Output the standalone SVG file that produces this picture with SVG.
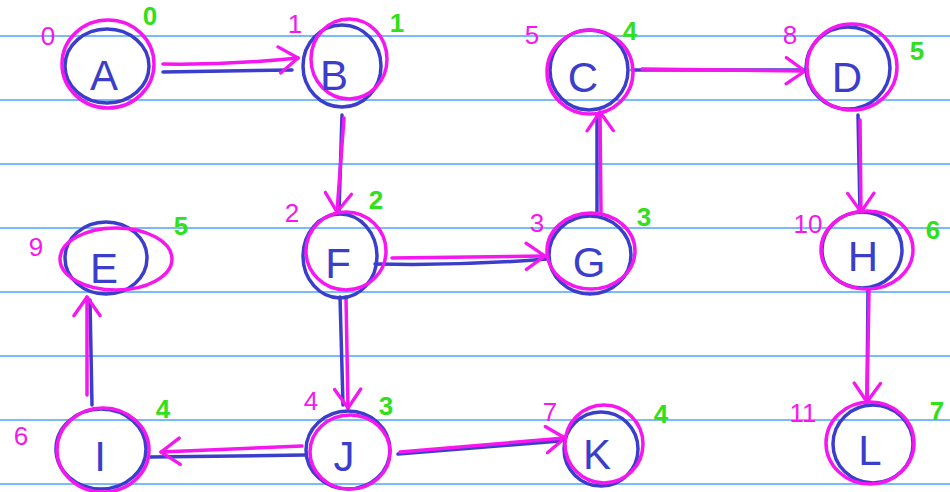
<svg xmlns="http://www.w3.org/2000/svg" width="950" height="492" viewBox="0 0 950 492">
<defs>
<style>
.rule{stroke:#4aa6f5;stroke-width:1.5}
.bc{fill:none;stroke:#3b3ecb;stroke-width:3.5}
.mc{fill:none;stroke:#f516f0;stroke-width:3.5}
.be{fill:none;stroke:#3b3ecb;stroke-width:3.5;stroke-linecap:round}
.me{fill:none;stroke:#f516f0;stroke-width:3.5;stroke-linecap:round;marker-end:url(#ah)}
.let{font-family:"Liberation Sans",Arial,sans-serif;font-size:42px;fill:#3b3ecb;text-anchor:middle}
.ml{font-family:"Liberation Sans",Arial,sans-serif;font-size:26px;fill:#f516f0;text-anchor:middle}
.gl{font-family:"Liberation Sans",Arial,sans-serif;font-size:26px;fill:#2fe01a;text-anchor:middle;font-weight:bold}
</style>
<marker id="ah" markerUnits="userSpaceOnUse" markerWidth="30" markerHeight="30" viewBox="-24 -16 28 32" refX="0" refY="0" orient="auto">
<path d="M-20,-14 L0,0 L-20,14" fill="none" stroke="#f516f0" stroke-width="3.5" stroke-linecap="round" stroke-linejoin="round"/>
</marker>
</defs>
<rect width="950" height="492" fill="#ffffff"/>
<g id="rules">
<line class="rule" x1="0" y1="36" x2="950" y2="36"/>
<line class="rule" x1="0" y1="100" x2="950" y2="100"/>
<line class="rule" x1="0" y1="164" x2="950" y2="164"/>
<line class="rule" x1="0" y1="228" x2="950" y2="228"/>
<line class="rule" x1="0" y1="292" x2="950" y2="292"/>
<line class="rule" x1="0" y1="356" x2="950" y2="356"/>
<line class="rule" x1="0" y1="420" x2="950" y2="420"/>
<line class="rule" x1="0" y1="484" x2="950" y2="484"/>
</g>
<g id="connectors">
<path class="be" d="M163,72 L292,70"/>
<path class="me" d="M163,64 Q230,65 298,58"/>
<path class="be" d="M342,115 L339,212"/>
<path class="me" d="M344,118 L337,212"/>
<path class="be" d="M632,70 L805,70"/>
<path class="me" d="M642,69 L805,71"/>
<path class="be" d="M375,264 Q460,266 547,259"/>
<path class="me" d="M392,258 L545,256"/>
<path class="be" d="M597,213 L597,114"/>
<path class="me" d="M601,213 L600,112"/>
<path class="be" d="M858,115 L860,212"/>
<path class="me" d="M860,120 L861,212"/>
<path class="be" d="M340,297 L343,405"/>
<path class="me" d="M346,297 L348,408"/>
<path class="be" d="M305,455 L150,457"/>
<path class="me" d="M302,446 L161,452"/>
<path class="be" d="M92,405 L90,300"/>
<path class="me" d="M87,395 L87,297"/>
<path class="be" d="M398,454 L560,441"/>
<path class="me" d="M400,452 L565,438"/>
<path class="be" d="M868,288 L867,400"/>
<path class="me" d="M869,290 L867,402"/>
</g>
<g id="A">
<ellipse class="bc" cx="107" cy="66" rx="42" ry="37"/>
<ellipse class="mc" cx="108" cy="64" rx="46" ry="44"/>
<text class="let" x="104" y="90">A</text>
<text class="ml" x="48" y="45">0</text>
<text class="gl" x="150" y="25">0</text>
</g>
<g id="B">
<ellipse class="bc" cx="342" cy="66" rx="39" ry="41"/>
<ellipse class="mc" cx="349" cy="59" rx="38" ry="40"/>
<text class="let" x="334" y="90">B</text>
<text class="ml" x="295" y="33">1</text>
<text class="gl" x="397" y="32">1</text>
</g>
<g id="C">
<ellipse class="bc" cx="589" cy="70" rx="39" ry="40"/>
<ellipse class="mc" cx="590" cy="72" rx="43" ry="42"/>
<text class="let" x="583" y="92">C</text>
<text class="ml" x="532" y="44">5</text>
<text class="gl" x="630" y="40">4</text>
</g>
<g id="D">
<ellipse class="bc" cx="848" cy="68" rx="42" ry="41"/>
<ellipse class="mc" cx="852" cy="67" rx="45" ry="43"/>
<text class="let" x="847" y="92">D</text>
<text class="ml" x="790" y="44">8</text>
<text class="gl" x="917" y="60">5</text>
</g>
<g id="E">
<ellipse class="bc" cx="106" cy="258" rx="41" ry="36"/>
<ellipse class="mc" cx="116" cy="259" rx="56" ry="31"/>
<text class="let" x="104" y="283">E</text>
<text class="ml" x="36" y="256">9</text>
<text class="gl" x="181" y="235">5</text>
</g>
<g id="F">
<ellipse class="bc" cx="340" cy="256" rx="37" ry="42"/>
<ellipse class="mc" cx="346" cy="251" rx="40" ry="39"/>
<text class="let" x="338" y="278">F</text>
<text class="ml" x="292" y="222">2</text>
<text class="gl" x="376" y="209">2</text>
</g>
<g id="G">
<ellipse class="bc" cx="590" cy="255" rx="41" ry="39"/>
<ellipse class="mc" cx="591" cy="251" rx="44" ry="38"/>
<text class="let" x="589" y="277">G</text>
<text class="ml" x="537" y="232">3</text>
<text class="gl" x="644" y="226">3</text>
</g>
<g id="H">
<ellipse class="bc" cx="862" cy="250" rx="40" ry="38"/>
<ellipse class="mc" cx="867" cy="250" rx="46" ry="39"/>
<text class="let" x="863" y="271">H</text>
<text class="ml" x="808" y="233">10</text>
<text class="gl" x="933" y="239">6</text>
</g>
<g id="I">
<ellipse class="bc" cx="101" cy="449" rx="45" ry="40"/>
<ellipse class="mc" cx="103" cy="450" rx="46" ry="42"/>
<text class="let" x="100" y="471">I</text>
<text class="ml" x="21" y="445">6</text>
<text class="gl" x="163" y="418">4</text>
</g>
<g id="J">
<ellipse class="bc" cx="348" cy="450" rx="42" ry="39"/>
<ellipse class="mc" cx="350" cy="452" rx="40" ry="37"/>
<text class="let" x="344" y="471">J</text>
<text class="ml" x="311" y="410">4</text>
<text class="gl" x="386" y="415">3</text>
</g>
<g id="K">
<ellipse class="bc" cx="601" cy="449" rx="37" ry="37"/>
<ellipse class="mc" cx="604" cy="444" rx="39" ry="39"/>
<text class="let" x="597" y="469">K</text>
<text class="ml" x="550" y="421">7</text>
<text class="gl" x="661" y="423">4</text>
</g>
<g id="L">
<ellipse class="bc" cx="873" cy="444" rx="40" ry="39"/>
<ellipse class="mc" cx="870" cy="443" rx="44" ry="41"/>
<text class="let" x="870" y="465">L</text>
<text class="ml" x="803" y="422">11</text>
<text class="gl" x="937" y="420">7</text>
</g>
</svg>
